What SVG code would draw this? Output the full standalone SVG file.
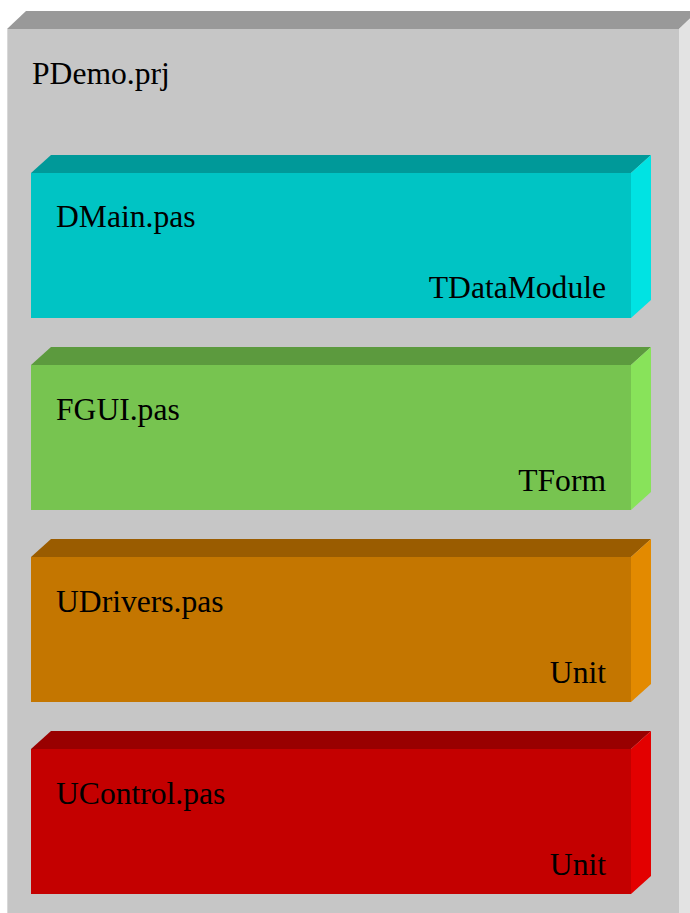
<svg xmlns="http://www.w3.org/2000/svg" width="690" height="913" viewBox="0 0 690 913">
<style>
text { font-family: "Liberation Serif", "Times New Roman", serif; font-size: 31.6px; fill: #000; }
.end { text-anchor: end; }
</style>
<rect x="0" y="0" width="690" height="913" fill="#ffffff"/>
<g id="project">
  <polygon points="7,29 26,11 698,11 679,29" fill="#999999"/>
  <polygon points="679,29 698,11 698,913 679,913" fill="#e3e3e3"/>
  <rect x="7" y="29" width="672" height="884" fill="#c6c6c6"/>
  <line x1="7.5" y1="29" x2="7.5" y2="913" stroke="#d8d8d8" stroke-width="1"/>
  <text x="32" y="84">PDemo.prj</text>
</g>
<g id="dmain">
  <polygon points="31,173 51,155 651,155 631,173" fill="#009999"/>
  <polygon points="631,173 651,155 651,300 631,318" fill="#00e3e3"/>
  <rect x="31" y="173" width="600" height="145" fill="#00c4c4"/>
  <text x="56" y="227">DMain.pas</text>
  <text class="end" x="606" y="298">TDataModule</text>
</g>
<g id="fgui">
  <polygon points="31,365 51,347 651,347 631,365" fill="#5c9a3e"/>
  <polygon points="631,365 651,347 651,492 631,510" fill="#88e35a"/>
  <rect x="31" y="365" width="600" height="145" fill="#77c450"/>
  <text x="56" y="420">FGUI.pas</text>
  <text class="end" x="606" y="491">TForm</text>
</g>
<g id="udrivers">
  <polygon points="31,557 51,539 651,539 631,557" fill="#9a5c00"/>
  <polygon points="631,557 651,539 651,684 631,702" fill="#e38a00"/>
  <rect x="31" y="557" width="600" height="145" fill="#c47600"/>
  <text x="56" y="612">UDrivers.pas</text>
  <text class="end" x="606" y="683">Unit</text>
</g>
<g id="ucontrol">
  <polygon points="31,749 51,731 651,731 631,749" fill="#990000"/>
  <polygon points="631,749 651,731 651,876 631,894" fill="#e30000"/>
  <rect x="31" y="749" width="600" height="145" fill="#c40000"/>
  <text x="56" y="804">UControl.pas</text>
  <text class="end" x="606" y="875">Unit</text>
</g>
<g id="connectors"></g>
</svg>
